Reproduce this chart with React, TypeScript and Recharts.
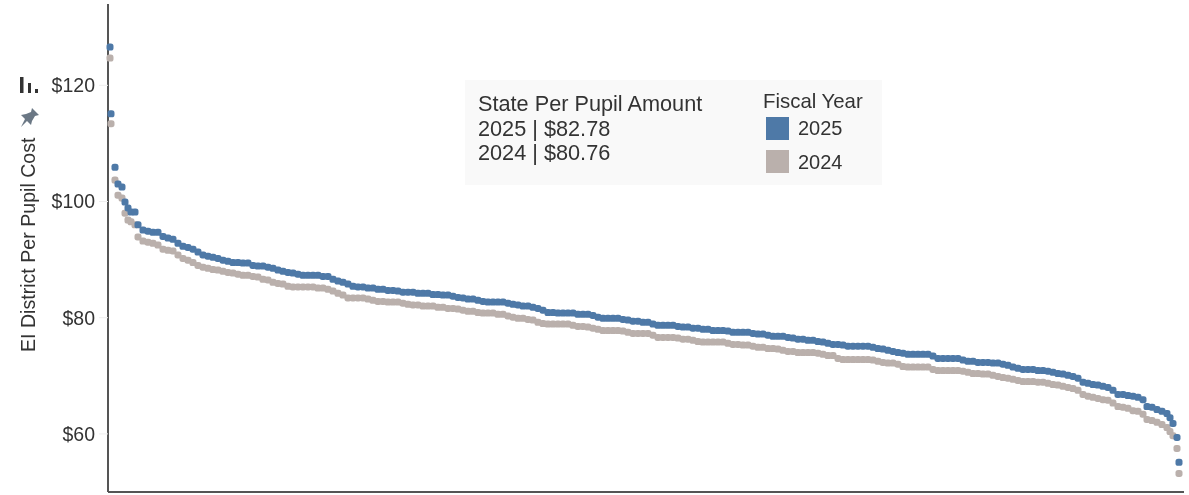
import React from "react";
import { ScatterChart, Scatter, XAxis, YAxis } from "recharts";

const seriesNames = ["2025", "2024"];
const yTicks = [60, 80, 100, 120];
const panelLines = ["State Per Pupil Amount", "2025 | $82.78", "2024 | $80.76"];

const districtRank = [
  2, 3, 7, 10, 14, 17, 20, 23, 27,
  30, 35, 40, 45, 50, 55, 60, 65, 70, 75,
  80, 85, 90, 95, 100, 105, 110, 115, 120, 125,
  130, 135, 140, 145, 150, 155, 160, 165, 170, 175,
  180, 185, 190, 195, 200, 205, 210, 215, 220, 225,
  230, 235, 240, 245, 250, 255, 260, 265, 270, 275,
  280, 285, 290, 295, 300, 305, 310, 315, 320, 325,
  330, 335, 340, 345, 350, 355, 360, 365, 370, 375,
  380, 385, 390, 395, 400, 405, 410, 415, 420, 425,
  430, 435, 440, 445, 450, 455, 460, 465, 470, 475,
  480, 485, 490, 495, 500, 505, 510, 515, 520, 525,
  530, 535, 540, 545, 550, 555, 560, 565, 570, 575,
  580, 585, 590, 595, 600, 605, 610, 615, 620, 625,
  630, 635, 640, 645, 650, 655, 660, 665, 670, 675,
  680, 685, 690, 695, 700, 705, 710, 715, 720, 725,
  730, 735, 740, 745, 750, 755, 760, 765, 770, 775,
  780, 785, 790, 795, 800, 805, 810, 815, 820, 825,
  830, 835, 840, 845, 850, 855, 860, 865, 870, 875,
  880, 885, 890, 895, 900, 905, 910, 915, 920, 925,
  930, 935, 940, 945, 950, 955, 960, 965, 970, 975,
  980, 985, 990, 995, 1000, 1005, 1010, 1015, 1020, 1025,
  1030, 1035,
  1039, 1044, 1049, 1054, 1059, 1062, 1065, 1069, 1071,
];

const cost2025 = [
  126.6, 115.1, 105.9, 103.0, 102.5, 99.9, 98.9, 98.2, 98.2,
  96.0, 95.1, 94.9, 94.7, 94.7, 94.0, 93.7, 93.5, 92.8, 92.3,
  92.1, 91.8, 91.3, 90.8, 90.6, 90.4, 90.2, 89.9, 89.7, 89.5,
  89.5, 89.4, 89.4, 89.0, 88.9, 88.9, 88.7, 88.5, 88.2, 88.0,
  87.8, 87.7, 87.5, 87.3, 87.3, 87.3, 87.3, 87.1, 87.1, 86.6,
  86.3, 86.1, 85.8, 85.4, 85.3, 85.3, 85.1, 85.1, 84.9, 84.9,
  84.7, 84.7, 84.6, 84.4, 84.4, 84.4, 84.2, 84.2, 84.2, 84.0,
  84.0, 83.9, 83.9, 83.7, 83.5, 83.4, 83.2, 83.2, 83.0, 82.8,
  82.7, 82.7, 82.7, 82.7, 82.5, 82.3, 82.2, 82.0, 82.0, 81.8,
  81.6, 81.3, 80.9, 80.9, 80.8, 80.8, 80.8, 80.8, 80.6, 80.6,
  80.6, 80.4, 80.1, 79.9, 79.9, 79.9, 79.9, 79.7, 79.6, 79.4,
  79.4, 79.2, 79.2, 78.9, 78.7, 78.7, 78.7, 78.7, 78.5, 78.4,
  78.4, 78.2, 78.2, 78.0, 78.0, 77.8, 77.8, 77.8, 77.7, 77.5,
  77.5, 77.5, 77.5, 77.3, 77.2, 77.2, 77.0, 76.8, 76.8, 76.8,
  76.6, 76.5, 76.3, 76.3, 76.1, 76.1, 75.9, 75.8, 75.6, 75.4,
  75.4, 75.3, 75.1, 75.1, 75.1, 75.1, 75.1, 74.9, 74.7, 74.6,
  74.4, 74.2, 74.0, 73.9, 73.7, 73.7, 73.7, 73.7, 73.7, 73.4,
  73.0, 73.0, 73.0, 73.0, 73.0, 72.7, 72.5, 72.5, 72.3, 72.3,
  72.3, 72.2, 72.2, 72.0, 71.8, 71.5, 71.3, 71.1, 71.1, 71.1,
  70.9, 70.9, 70.8, 70.6, 70.4, 70.3, 70.1, 69.9, 69.6, 68.9,
  68.7, 68.5, 68.4, 68.2, 68.0, 67.5, 66.8, 66.8, 66.6, 66.5,
  66.3, 65.9,
  64.7, 64.6, 64.2, 63.9, 63.5, 62.8, 61.8, 59.4, 55.1,
];

const cost2024 = [
  124.7, 113.4, 103.7, 101.1, 100.6, 98.0, 96.8, 96.5, 96.0,
  93.9, 93.2, 93.0, 92.8, 92.5, 91.8, 91.6, 91.5, 90.8, 90.2,
  89.9, 89.5, 89.0, 88.7, 88.5, 88.3, 88.2, 88.0, 87.8, 87.7,
  87.5, 87.3, 87.3, 87.1, 87.0, 86.6, 86.5, 86.1, 85.9, 85.8,
  85.4, 85.3, 85.3, 85.3, 85.3, 85.3, 85.1, 85.1, 84.9, 84.6,
  84.2, 83.9, 83.4, 83.4, 83.4, 83.4, 83.2, 83.0, 82.8, 82.8,
  82.7, 82.7, 82.7, 82.5, 82.3, 82.2, 82.2, 82.0, 82.0, 82.0,
  81.8, 81.8, 81.6, 81.6, 81.5, 81.3, 81.1, 81.1, 80.9, 80.8,
  80.8, 80.8, 80.6, 80.6, 80.3, 80.1, 79.9, 79.9, 79.7, 79.6,
  79.2, 79.0, 78.9, 78.9, 78.9, 78.9, 78.9, 78.7, 78.5, 78.5,
  78.4, 78.2, 78.0, 77.8, 77.8, 77.8, 77.8, 77.7, 77.5, 77.3,
  77.3, 77.3, 77.3, 77.0, 76.6, 76.6, 76.6, 76.6, 76.5, 76.3,
  76.3, 76.1, 75.9, 75.8, 75.8, 75.8, 75.8, 75.8, 75.6, 75.4,
  75.4, 75.3, 75.3, 75.1, 74.9, 74.9, 74.7, 74.7, 74.6, 74.4,
  74.2, 74.2, 74.0, 74.0, 74.0, 74.0, 73.9, 73.7, 73.5, 73.5,
  73.0, 72.8, 72.8, 72.8, 72.8, 72.8, 72.8, 72.7, 72.5, 72.3,
  72.2, 72.2, 72.0, 71.6, 71.5, 71.5, 71.5, 71.5, 71.5, 71.1,
  70.9, 70.9, 70.9, 70.9, 70.9, 70.8, 70.6, 70.4, 70.4, 70.3,
  70.3, 70.1, 69.9, 69.7, 69.6, 69.4, 69.2, 69.0, 69.0, 69.0,
  68.9, 68.9, 68.7, 68.5, 68.4, 68.2, 68.0, 67.8, 67.5, 66.8,
  66.5, 66.3, 66.1, 65.9, 65.8, 65.3, 64.7, 64.6, 64.4, 64.0,
  63.9, 63.4,
  62.5, 62.3, 62.0, 61.6, 61.1, 60.4, 59.7, 57.5, 53.2,
];

const BLUE = "#4e79a7";
const TAUPE = "#bab0ac";
const FONT = "'Liberation Sans', Arial, sans-serif";

const toPoints = (values: number[]) => values.map((cost, i) => ({ rank: districtRank[i], cost }));
const data2025 = toPoints(cost2025);
const data2024 = toPoints(cost2024);

const DOT = 7;
const Dot = (props: any) => (
  <rect x={props.cx - DOT / 2} y={props.cy - DOT / 2} width={DOT} height={DOT} rx={2.6} ry={2.6} fill={props.fill} />
);

const abs = (left: number, top: number, extra: React.CSSProperties = {}): React.CSSProperties => ({
  position: "absolute",
  left,
  top,
  whiteSpace: "nowrap",
  ...extra,
});

export default function App() {
  return (
    <div style={abs(0, 0, { width: 1189, height: 495, overflow: "hidden", fontFamily: FONT, color: "#333", background: "#fff", filter: "blur(0.4px)" })}>
      <ScatterChart width={1189} height={495} margin={{ top: 4, right: 5, bottom: 0, left: 0 }}>
        <XAxis
          type="number"
          dataKey="rank"
          domain={[0, 1076]}
          tick={false}
          tickLine={false}
          height={3}
          axisLine={{ stroke: "#555", strokeWidth: 2 }}
        />
        <YAxis
          type="number"
          dataKey="cost"
          domain={[50, 134]}
          ticks={yTicks}
          width={108}
          tickSize={9}
          tickMargin={4}
          tickLine={{ stroke: "#eeeeee" }}
          axisLine={{ stroke: "#555", strokeWidth: 2 }}
          tickFormatter={(v: number) => `$${v}`}
          tick={{ fill: "#333", fontSize: 19.5, fontFamily: FONT }}
          label={{
            value: "EI District Per Pupil Cost",
            angle: -90,
            position: "insideLeft",
            offset: 0,
            dx: 28,
            dy: 104,
            style: { fill: "#333", fontSize: 19.6, fontFamily: FONT },
          }}
        />
        <Scatter name={seriesNames[1]} data={data2024} fill={TAUPE} shape={Dot} isAnimationActive={false} />
        <Scatter name={seriesNames[0]} data={data2025} fill={BLUE} shape={Dot} isAnimationActive={false} />
      </ScatterChart>

      <svg style={abs(18, 75)} width={24} height={56} viewBox="0 0 24 56">
        <rect x={2} y={2} width={3.5} height={16} fill="#333" />
        <rect x={10} y={8} width={3} height={10} fill="#333" />
        <rect x={17} y={14} width={3} height={4} fill="#333" />
        <path
          d="M14 33 L21 40 L17 41 L14 46 L13 50 L9 46 L3 52 L7 44 L3 40 L8 39 L13 37 Z"
          fill="#6b7885"
        />
      </svg>

      <div style={abs(465, 80, { width: 417, height: 105, background: "#f9f9f9" })} />
      <div style={abs(478, 92, { fontSize: 21.7, lineHeight: "24.6px" })}>
        {panelLines.map((line) => (
          <div key={line}>{line}</div>
        ))}
      </div>
      <div style={abs(763, 90, { fontSize: 20.4 })}>Fiscal Year</div>
      <div style={abs(766, 117, { width: 23, height: 23, background: BLUE })} />
      <div style={abs(798, 117, { fontSize: 20 })}>{seriesNames[0]}</div>
      <div style={abs(766, 150, { width: 23, height: 23, background: TAUPE })} />
      <div style={abs(798, 151, { fontSize: 20 })}>{seriesNames[1]}</div>
    </div>
  );
}
